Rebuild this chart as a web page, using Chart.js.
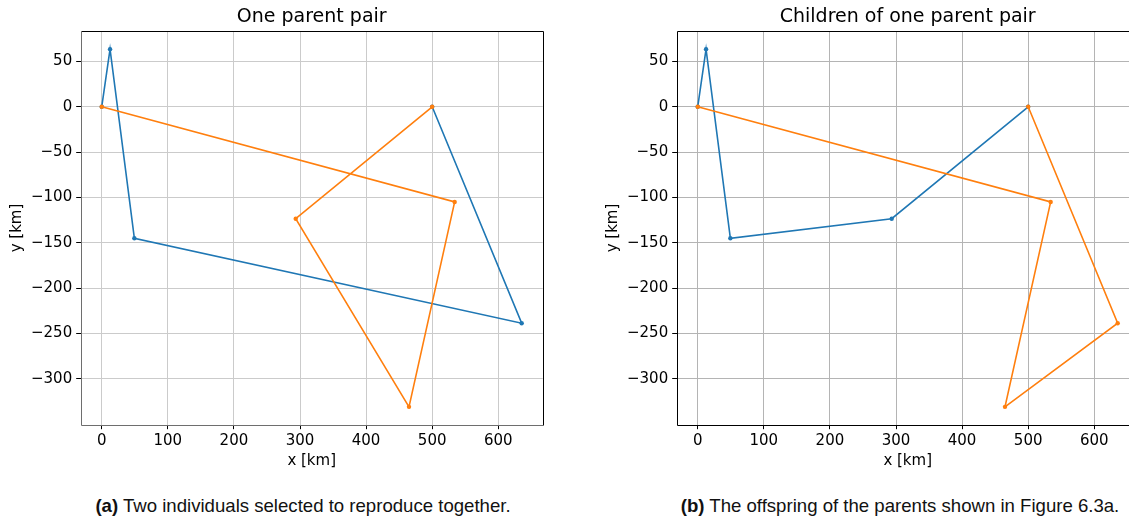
<!doctype html>
<html>
  <head>
    <meta charset="utf-8" />
    <title>Parent pair and children</title>
    <script src="https://cdn.jsdelivr.net/npm/chart.js"></script>
    <style>
      html, body { margin: 0; padding: 0; background: #fff; overflow: hidden; width: 1129px; height: 517px; }
      .plot { position: absolute; top: 0; width: 560px; height: 480px; }
      .caption {
        position: absolute; top: 495px; width: 600px; text-align: center; line-height: 21px;
        font: 18.6px "Liberation Sans", Arial, sans-serif; color: #111; white-space: nowrap;
      }
    </style>
  </head>
  <body>
    <div class="plot" style="left: 0px"><canvas id="parents" width="560" height="480"></canvas></div>
    <div class="plot" style="left: 596px"><canvas id="children" width="560" height="480"></canvas></div>
    <div class="caption" style="left: 3px"><b>(a)</b> Two individuals selected to reproduce together.</div>
    <div class="caption" style="left: 600px"><b>(b)</b> The offspring of the parents shown in Figure 6.3a.</div>
    <script type="text/javascript">
      // route coordinates in km
      const parentAx = [0, 12.6, 49.4, 635.4, 500];
      const parentAy = [0, 63.6, -145.1, -238.8, 0];
      const parentBx = [0, 534, 464.9, 293.5, 500];
      const parentBy = [0, -105, -331.1, -123.5, 0];

      const childAx = [0, 12.6, 49.4, 293.5, 500];
      const childAy = [0, 63.6, -145.1, -123.5, 0];
      const childBx = [0, 534, 464.9, 635.4, 500];
      const childBy = [0, -105, -331.1, -238.8, 0];

      const xTicks = [0, 100, 200, 300, 400, 500, 600];
      const yTicks = [50, 0, -50, -100, -150, -200, -250, -300];

      const font = "'DejaVu Sans', sans-serif";

      function pts(xs, ys) {
        return xs.map((x, i) => ({ x: x, y: ys[i] }));
      }

      // full box around the plot area (like matplotlib spines) and a title centred on the axes
      const frame = {
        id: "frame",
        afterDatasetsDraw(chart, args, opts) {
          const a = chart.chartArea;
          const ctx = chart.ctx;
          ctx.save();
          ctx.lineWidth = 1;
          const l = Math.round(a.left) + 0.5, r = Math.round(a.right) + 0.5;
          const t = Math.round(a.top) + 0.5, b = Math.round(a.bottom) + 0.5;
          ctx.strokeStyle = "#000";
          ctx.beginPath();
          ctx.moveTo(l, t); ctx.lineTo(r, t); ctx.lineTo(r, b);
          ctx.stroke();
          ctx.strokeStyle = opts.side || "#000";
          ctx.beginPath();
          ctx.moveTo(r, b); ctx.lineTo(l, b); ctx.lineTo(l, t);
          ctx.stroke();

          ctx.fillStyle = "#000";
          ctx.font = "19px " + font;
          ctx.textAlign = "center";
          ctx.textBaseline = "middle";
          ctx.fillText(opts.title, (a.left + a.right) / 2, 17.5);
          ctx.restore();
        },
      };

      function makeChart(id, title, blue, orange, gridColor, sideColor) {
        new Chart(document.getElementById(id), {
          type: "scatter",
          data: {
            datasets: [
              {
                data: orange, order: 0, showLine: true,
                borderColor: "#ff7f0e", backgroundColor: "#ff7f0e",
                borderWidth: 1.6, pointRadius: 2.2, pointBorderWidth: 0,
              },
              {
                data: blue, order: 1, showLine: true,
                borderColor: "#1f77b4", backgroundColor: "#1f77b4",
                borderWidth: 1.6, pointRadius: 2.2, pointBorderWidth: 0,
              },
            ],
          },
          options: {
            responsive: false,
            animation: false,
            layout: { padding: { left: 0, right: 17.3, top: 31.3, bottom: 0 } },
            plugins: {
              legend: { display: false },
              tooltip: { enabled: false },
              title: { display: false },
              frame: { side: sideColor, title: title },
            },
            scales: {
              x: {
                type: "linear", min: -31.8, max: 667.2,
                afterBuildTicks: (s) => { s.ticks = xTicks.map((v) => ({ value: v })); },
                afterFit: (s) => { s.height = 55.3; },
                grid: { color: gridColor, lineWidth: 1, tickLength: 4.5, tickColor: "#000" },
                border: { display: false },
                ticks: { color: "#000", padding: 3, font: { family: font, size: 15 } },
                title: {
                  display: true, text: "x [km]", color: "#000",
                  font: { family: font, size: 15 }, padding: { top: 0, bottom: 10 },
                },
              },
              y: {
                type: "linear", min: -350.8, max: 83.3,
                afterBuildTicks: (s) => { s.ticks = yTicks.map((v) => ({ value: v })); },
                afterFit: (s) => { s.width = 80.7; },
                grid: { color: gridColor, lineWidth: 1, tickLength: 4.5, tickColor: "#000" },
                border: { display: false },
                ticks: {
                  color: "#000", padding: 4, font: { family: font, size: 15 },
                  callback: (v) => String(v).replace("-", "\u2212"),
                },
                title: {
                  display: true, text: "y [km]", color: "#000",
                  font: { family: font, size: 15 }, padding: { top: 8, bottom: 0 },
                },
              },
            },
          },
          plugins: [frame],
        });
      }

      makeChart("parents", "One parent pair",
        pts(parentAx, parentAy), pts(parentBx, parentBy), "#cbcbcb", "#6e6e6e");
      makeChart("children", "Children of one parent pair",
        pts(childAx, childAy), pts(childBx, childBy), "#b4b4b4", "#000");
    </script>
  </body>
</html>
